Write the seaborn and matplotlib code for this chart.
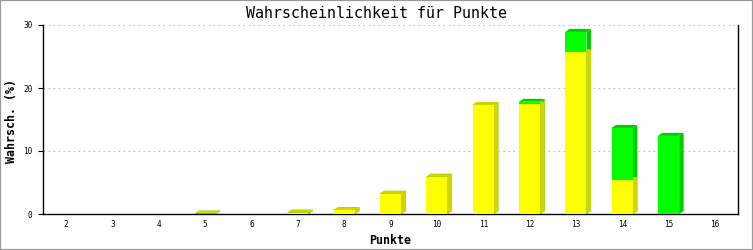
import matplotlib
matplotlib.use("Agg")
import matplotlib.pyplot as plt
import seaborn as sns
import pandas as pd
from matplotlib.patches import Polygon, Rectangle

# ---- data ----
punkte = ["2", "3", "4", "5", "6", "7", "8", "9", "10", "11", "12", "13", "14", "15", "16"]
gelb = [0, 0, 0, 0.05, 0, 0.2, 0.6, 3.2, 5.9, 17.3, 17.4, 25.7, 5.4, 0, 0]
gruen = [0, 0, 0, 0, 0, 0, 0, 0, 0, 0, 0.4, 3.2, 8.25, 12.4, 0]
y_ticks = [0, 10, 20, 30]

title = "Wahrscheinlichkeit für Punkte"
x_label = "Punkte"
y_label = "Wahrsch. (%)"

sns.set_theme(style="white")
plt.rcParams['font.family'] = ['DejaVu Sans Mono', 'DejaVu Sans']
plt.rcParams['text.color'] = 'black'
plt.rcParams['axes.labelcolor'] = 'black'
plt.rcParams['xtick.color'] = 'black'
plt.rcParams['ytick.color'] = 'black'

W, H = 753, 250
fig = plt.figure(figsize=(W / 100, H / 100), dpi=100)
fig.patch.set_facecolor("white")
ax_l, ax_r, ax_b, ax_t = 43, 738, 36, 225
ax = fig.add_axes([ax_l / W, ax_b / H, (ax_r - ax_l) / W, (ax_t - ax_b) / H])
ax.set_facecolor("white")

df = pd.DataFrame({
    "Punkte": punkte,
    "gelb": gelb,
    "gesamt": [a + b for a, b in zip(gelb, gruen)],
})

BAR_W = 0.46
sns.barplot(data=df, x="Punkte", y="gesamt", color="#00FF00", saturation=1,
            width=BAR_W, ax=ax, linewidth=0, zorder=3, errorbar=None)
n_green = len(ax.patches)
sns.barplot(data=df, x="Punkte", y="gelb", color="#FFFF00", saturation=1,
            width=BAR_W, ax=ax, linewidth=0, zorder=4, errorbar=None)

ax.set_xlim(-0.5, len(punkte) - 0.5)
ax.set_ylim(0, 30)

# 3D depth in data units (4 px right, 3 px up)
px_x = (ax_r - ax_l) / len(punkte)
px_y = (ax_t - ax_b) / 30
dx = 4.5 / px_x
dy = 3 / px_y

patches = list(ax.patches)
for i, p in enumerate(patches):
    h = p.get_height()
    if h <= 0:
        continue
    green = i < n_green
    dark = "#00CC00" if green else "#D4D400"
    z = 2 if green else 2.5
    x0, y0, w = p.get_x(), p.get_y(), p.get_width()
    side = Polygon([(x0 + w, y0), (x0 + w + dx, y0 + dy), (x0 + w + dx, y0 + h + dy), (x0 + w, y0 + h)],
                   closed=True, facecolor=dark, edgecolor="none", zorder=z)
    top = Polygon([(x0, y0 + h), (x0 + dx, y0 + h + dy), (x0 + w + dx, y0 + h + dy), (x0 + w, y0 + h)],
                  closed=True, facecolor=dark, edgecolor="none", zorder=z)
    ax.add_patch(side)
    ax.add_patch(top)

# grid
ax.set_yticks(y_ticks)
ax.yaxis.grid(True, color="#BBBBBB", linestyle=(0, (1.5, 3)), linewidth=0.8)
ax.xaxis.grid(False)
ax.set_axisbelow(True)

# spines
for s in ["left", "bottom", "right"]:
    ax.spines[s].set_visible(True)
    ax.spines[s].set_color("black")
    ax.spines[s].set_linewidth(1.0)
ax.spines["top"].set_visible(False)

ax.tick_params(axis="y", direction="out", length=3.6, width=0.8, color="black",
               labelsize=5.6, pad=4, left=True, labelcolor="black")
ax.tick_params(axis="x", length=0, labelsize=5.6, pad=4, labelcolor="black")

ax.set_xlabel(x_label, fontsize=8.4, fontweight="bold", color="black")
ax.set_ylabel(y_label, fontsize=8.4, fontweight="bold", color="black")
ax.xaxis.set_label_coords(0.5, -(240 - 214) / (ax_t - ax_b))
ax.xaxis.label.set_va("center")
ax.yaxis.set_label_coords(-(ax_l - 12) / (ax_r - ax_l), (250 - 121 - ax_b) / (ax_t - ax_b))
ax.yaxis.label.set_va("center")

fig.text(0.5, 1 - 13 / H, title, ha="center", va="center", fontsize=10.8, color="black")

fig.patches.append(Rectangle((0, 0), 1, 1, transform=fig.transFigure, fill=False,
                             edgecolor="#999999", linewidth=1.6, zorder=10))

fig.savefig("out.png", dpi=100)
